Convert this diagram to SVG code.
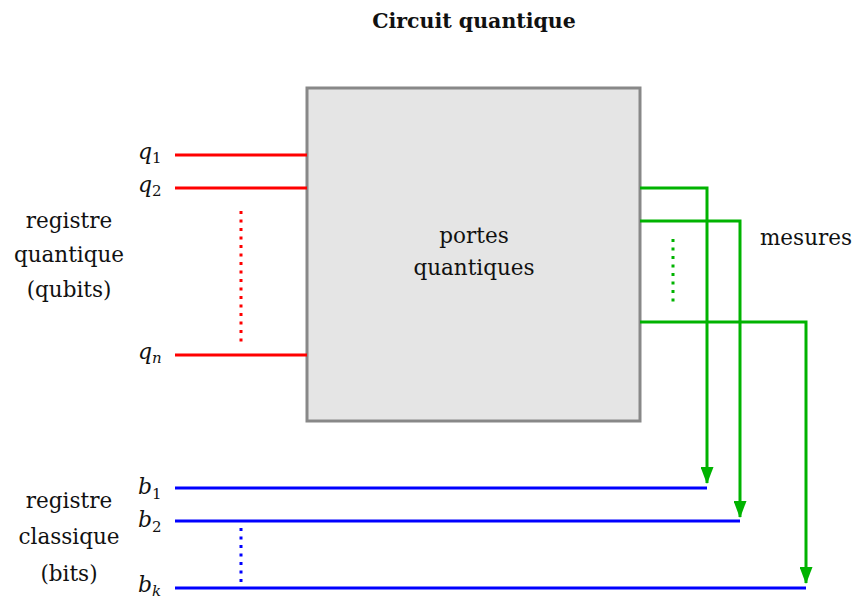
<svg xmlns="http://www.w3.org/2000/svg" width="853" height="601" viewBox="0 0 853 601">
<style>
text{font-family:"DejaVu Serif","Liberation Serif",serif;fill:#111;}
.lbl{font-size:21.5px;text-anchor:middle;}
.math{font-style:italic;font-size:22px;}
.sub{font-size:15px;}
.subi{font-style:italic;font-size:15px;}
.q{stroke:#ff0000;stroke-width:3;fill:none;}
.m{stroke:#00b300;stroke-width:3;fill:none;}
.b{stroke:#0000ff;stroke-width:3;fill:none;}
.dot{stroke-dasharray:3 5.5;}
</style>
<defs>
<marker id="arr" markerUnits="userSpaceOnUse" markerWidth="17" markerHeight="13" viewBox="0 0 17 13" refX="16" refY="6.5" orient="auto">
<path d="M0,0 L17,6.5 L0,13 Z" fill="#00b300"/>
</marker>
</defs>
<text x="474" y="28" text-anchor="middle" font-size="20.5" font-weight="bold">Circuit quantique</text>
<g id="box">
<rect x="307" y="88" width="333" height="333" fill="#e5e5e5" stroke="#888" stroke-width="3"/>
<text class="lbl" x="474" y="243">portes</text>
<text class="lbl" x="474" y="275">quantiques</text>
</g>
<g id="reg-quantique">
<text class="lbl" x="69" y="228">registre</text>
<text class="lbl" x="69" y="262">quantique</text>
<text class="lbl" x="69" y="297">(qubits)</text>
</g>
<g id="reg-classique">
<text class="lbl" x="69" y="508">registre</text>
<text class="lbl" x="69" y="544">classique</text>
<text class="lbl" x="69" y="581">(bits)</text>
</g>
<g id="mesures"><text class="lbl" x="806" y="245">mesures</text></g>
<g id="labels">
<text x="138" y="159"><tspan class="math">q</tspan><tspan class="sub" dy="4">1</tspan></text>
<text x="138" y="192"><tspan class="math">q</tspan><tspan class="sub" dy="4">2</tspan></text>
<text x="138" y="359"><tspan class="math">q</tspan><tspan class="subi" dy="4">n</tspan></text>
<text x="138" y="494"><tspan class="math">b</tspan><tspan class="sub" dy="5">1</tspan></text>
<text x="138" y="527"><tspan class="math">b</tspan><tspan class="sub" dy="5">2</tspan></text>
<text x="138" y="592"><tspan class="math">b</tspan><tspan class="subi" dy="4">k</tspan></text>
</g>
<g id="connectors">
<line class="q" x1="175" y1="155" x2="307" y2="155"/>
<line class="q" x1="175" y1="188" x2="307" y2="188"/>
<line class="q" x1="175" y1="355" x2="307" y2="355"/>
<line class="q dot" x1="241" y1="211" x2="241" y2="343"/>
<line class="b" x1="175" y1="488" x2="707" y2="488"/>
<line class="b" x1="175" y1="521" x2="740" y2="521"/>
<line class="b" x1="175" y1="588" x2="806" y2="588"/>
<line class="b dot" x1="241" y1="528" x2="241" y2="583"/>
<path class="m" d="M640,188 H707 V483" marker-end="url(#arr)"/>
<path class="m" d="M640,221 H740 V517" marker-end="url(#arr)"/>
<path class="m" d="M640,322 H806 V583" marker-end="url(#arr)"/>
<line class="m dot" x1="673" y1="239" x2="673" y2="304"/>
</g>
</svg>
